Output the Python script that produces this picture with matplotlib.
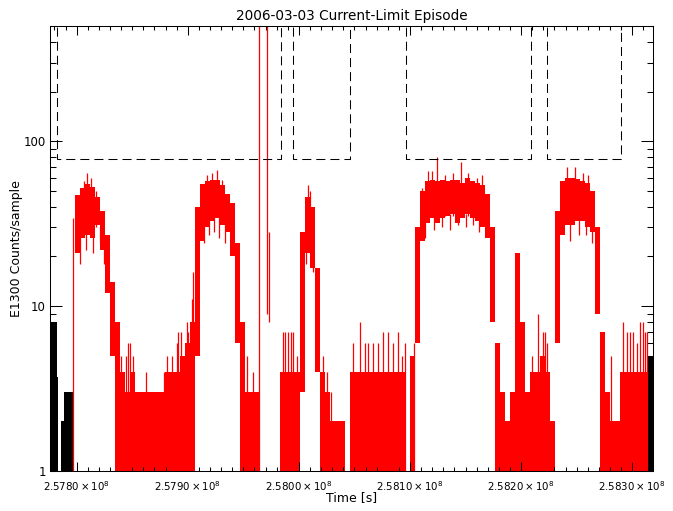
import numpy as np
import matplotlib
matplotlib.use("Agg")
import matplotlib.pyplot as plt
from matplotlib.ticker import MultipleLocator, FixedLocator, FuncFormatter, LogLocator, NullFormatter

plt.rcParams['font.family'] = ['DejaVu Sans']
plt.rcParams['mathtext.fontset'] = 'dejavusans'

# --- data (times in ks relative to T0) ---
T0 = 2.5780e8
t_start, t_end = -24.0, 518.7

# red E1300 counts, 4.5 ks bins: upper / lower envelope of the samples
bin_w = 4.5
red_t0 = -1.5
red_hi = [47, 52, 55, 53, 46, 38, 27, 14, 8, 4,
          3, 4, 3, 3, 3, 3, 3, 3, 4, 4,
          4, 5, 6, 8, 40, 55, 57, 58, 58, 54,
          48, 42, 24, 8, 3, 3, 3, 1, 1, 1,
          1, 4, 4, 4, 4, 28, 46, 40, 17, 4,
          3, 2, 2, 2, 1, 4, 4, 4, 4, 4,
          4, 4, 4, 4, 4, 4, 1, 5, 30, 50,
          57, 58, 57, 58, 57, 58, 58, 56, 60, 57,
          56, 54, 48, 30, 6, 3, 2, 3, 21, 8,
          3, 4, 4, 5, 4, 2, 38, 57, 60, 60,
          59, 57, 56, 50, 30, 7, 3, 2, 2, 4,
          4, 4, 4, 4, 4]
red_lo = [21, 26, 27, 26, 31, 22, 12, 5, 1, 1,
          1, 1, 1, 1, 1, 1, 1, 1, 1, 1,
          1, 1, 1, 1, 5, 25, 30, 33, 34, 31,
          28, 20, 6, 1, 1, 1, 1, 1, 1, 1,
          1, 1, 1, 1, 1, 3, 21, 17, 4, 1,
          1, 1, 1, 1, 1, 1, 1, 1, 1, 1,
          1, 1, 1, 1, 1, 1, 1, 1, 6, 25,
          32, 34, 32, 34, 35, 36, 32, 34, 36, 34,
          33, 30, 26, 8, 1, 1, 1, 1, 1, 1,
          1, 1, 1, 1, 1, 1, 6, 27, 31, 31,
          33, 33, 30, 28, 9, 1, 1, 1, 1, 1,
          1, 1, 1, 1, 1]

# single samples sticking out of the envelope (above or below it)
spike_t = [-3.1, 6.6, 9.5, 12.6, 17.4, 3.0, 8.0, 14.5, 21.0, 24.5,
           39.6, 44.4, 46.4, 48.0, 50.9, 62.4, 78.6, 81.0, 85.8, 90.0, 91.2, 93.9, 99.0, 100.2, 103.5, 104.9,
           117.0, 121.5, 126.0, 130.8, 115.0, 119.5, 124.0, 128.5, 133.5, 153.0, 158.9,
           164.1, 171.7, 173.3,
           185.4, 187.5, 190.4, 192.6, 194.9, 198.0, 208.4, 210.0, 206.5, 212.5, 221.4, 225.0, 228.6,
           248.9, 255.0, 259.5, 262.4, 266.9, 271.4, 275.9, 279.9, 284.9, 288.9, 293.0, 295.5, 303.8,
           311.0, 316.4, 320.0, 324.5, 331.5, 338.9, 345.6, 352.4, 360.0, 364.5,
           313.5, 322.0, 329.0, 336.0, 343.5, 350.0, 357.0, 362.0,
           395.1, 409.5, 415.4, 419.9, 421.7, 423.5,
           441.0, 448.5, 455.9, 460.4, 444.0, 452.0, 458.0, 463.5, 477.0, 480.9,
           491.9, 495.0, 498.0, 500.9, 504.0, 507.0, 509.4, 511.5, 513.0]
spike_lo = [1, 30, 30, 30, 30, 18, 22, 21, 24, 18,
            1, 1, 1, 1, 1, 1, 1, 1, 1, 1, 1, 1, 1, 1, 1, 1,
            35, 35, 35, 35, 24, 27, 28, 26, 24, 1, 1,
            1, 9, 8,
            1, 1, 1, 1, 1, 1, 30, 30, 18, 16, 1, 1, 1,
            1, 1, 1, 1, 1, 1, 1, 1, 1, 1, 1, 1, 1,
            30, 35, 35, 35, 35, 35, 35, 35, 35, 35,
            26, 29, 30, 29, 31, 30, 31, 28,
            1, 1, 1, 1, 1, 1,
            35, 35, 35, 35, 25, 27, 27, 24, 1, 1,
            1, 1, 1, 1, 1, 1, 1, 1, 1]
spike_hi = [34, 57, 64, 60, 50, 30, 30, 30, 30, 25,
            5, 5, 6, 6, 5, 4, 4, 5, 5, 6, 7, 7, 8, 7, 11, 16,
            62, 64, 67, 58, 34, 36, 36, 36, 34, 5, 4,
            600, 600, 28,
            7, 7, 7, 7, 7, 5, 54, 50, 25, 25, 5, 4, 3,
            6, 8, 6, 6, 6, 6, 7, 7, 6, 7, 5, 6, 6,
            52, 66, 66, 80, 62, 64, 75, 64, 60, 62,
            36, 36, 36, 36, 36, 36, 36, 36,
            9, 5, 9, 7, 7, 6,
            70, 70, 64, 62, 35, 35, 35, 35, 3, 5,
            8, 7, 7, 7, 6, 8, 8, 7, 7]

# black (flagged) samples at both ends
black_edges = [-24.0, -17.5, -16.6, -14.1, -11.2, -7.6, -3.1]
black_hi = [8, 3.7, 1, 2, 3, 3]
black_r_edges = [514.2, 518.7]
black_r_hi = [5]

# dashed intervals
box_start = [-17.7, 194.7, 296.8, 423.5]
box_end = [183.9, 246.0, 408.6, 489.9]
box_floor = 78

ytick_vals = [1, 10, 100]
ytick_labels = ['1', '10', '100']

# --- plot ---
fig = plt.figure(figsize=(6.73, 5.11), dpi=100)
ax = fig.add_axes([50 / 673, 40 / 511, 603 / 673, 445 / 511])

red_left = T0 + (red_t0 + bin_w * np.arange(len(red_hi))) * 1e3
ax.bar(red_left, np.array(red_hi) - np.array(red_lo), bottom=red_lo,
       width=bin_w * 1e3, align='edge', color='red', linewidth=0)
ax.vlines(T0 + np.array(spike_t) * 1e3, spike_lo, spike_hi, colors='red', linewidth=0.9)

for edges, hi in [(black_edges, black_hi), (black_r_edges, black_r_hi)]:
    edges = T0 + np.array(edges) * 1e3
    ax.bar(edges[:-1], np.array(hi) - 1, bottom=1, width=np.diff(edges),
           align='edge', color='black', linewidth=0)

for s, e in zip(box_start, box_end):
    s, e = T0 + s * 1e3, T0 + e * 1e3
    ax.plot([s, s, e, e], [5000, box_floor, box_floor, 5000], color='black',
            linewidth=0.75, linestyle=(0, (8.7, 4.8)))

ax.set_yscale('log')
ax.set_xlim(T0 + t_start * 1e3, T0 + t_end * 1e3)
ax.set_ylim(1, 500)

ax.xaxis.set_major_locator(MultipleLocator(1e5))
ax.xaxis.set_minor_locator(MultipleLocator(1e4))
ax.xaxis.set_major_formatter(FuncFormatter(lambda v, p: r'$%.4f\times10^{8}$' % (v / 1e8)))
ax.yaxis.set_major_locator(FixedLocator(ytick_vals))
ax.yaxis.set_major_formatter(FuncFormatter(lambda v, p: ytick_labels[ytick_vals.index(round(v))] if round(v) in ytick_vals else ''))
ax.yaxis.set_minor_locator(LogLocator(base=10, subs=range(2, 10)))
ax.yaxis.set_minor_formatter(NullFormatter())

ax.tick_params(which='both', direction='in', top=True, right=True, width=0.75, labelsize=8.5)
ax.tick_params(axis='x', which='major', length=6.4, pad=6, labelsize=7.4)
ax.tick_params(axis='x', which='minor', length=3.2)
ax.tick_params(axis='y', which='major', length=8.7, pad=3)
ax.tick_params(axis='y', which='minor', length=4.3)
for sp in ax.spines.values():
    sp.set_linewidth(0.75)
# IDL puts the y labels a little above their tick
for lab in ax.get_yticklabels():
    lab.set_verticalalignment('center_baseline')

ax.set_title('2006-03-03 Current-Limit Episode', fontsize=9.8, pad=4)
ax.set_xlabel('Time [s]', fontsize=9)
ax.set_ylabel('E1300 Counts/sample', fontsize=9)
ax.xaxis.set_label_coords(0.5, -0.045)
ax.yaxis.set_label_coords(-0.045, 0.5)

fig.savefig('out.png', dpi=100)
